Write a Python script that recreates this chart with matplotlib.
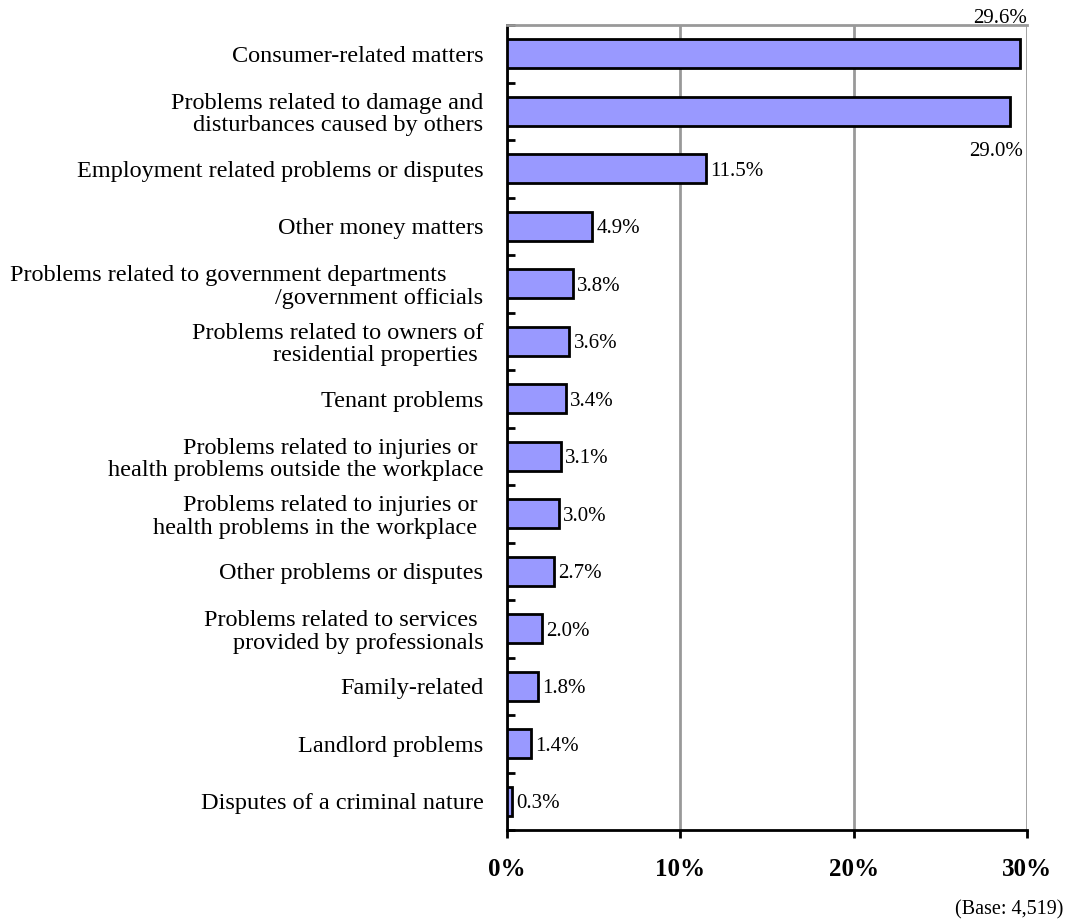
import matplotlib.pyplot as plt
import numpy as np

plt.rcParams['font.family'] = ['Liberation Serif', 'DejaVu Serif']

categories = [
    'Consumer-related matters',
    'Problems related to damage and\ndisturbances caused by others',
    'Employment related problems or disputes',
    'Other money matters',
    'Problems related to government departments      \n/government officials',
    'Problems related to owners of\nresidential properties ',
    'Tenant problems',
    'Problems related to injuries or \nhealth problems outside the workplace',
    'Problems related to injuries or \nhealth problems in the workplace ',
    'Other problems or disputes',
    'Problems related to services \nprovided by professionals',
    'Family-related',
    'Landlord problems',
    'Disputes of a criminal nature',
]
values = [29.6, 29.0, 11.5, 4.9, 3.8, 3.6, 3.4, 3.1, 3.0, 2.7, 2.0, 1.8, 1.4, 0.3]
xticks = [0, 10, 20, 30]

fig = plt.figure(figsize=(10.68, 9.24), dpi=100)
ax = fig.add_axes([507 / 1068, 1 - 830 / 924, 520 / 1068, 805 / 924])

n = len(values)
y = np.arange(n)
ax.barh(y, values, height=0.5, color='#9999ff', edgecolor='black', linewidth=2, zorder=3)
ax.set_ylim(n - 0.5, -0.5)
ax.set_xlim(0, 30)

for i, v in enumerate(values):
    lab = f'{v:.1f}%'
    if i == 0:
        ax.text(v + 0.4, i - 0.45, lab, ha='right', va='bottom', fontsize=15, clip_on=False)
    elif i == 1:
        ax.text(v + 0.75, i + 0.53, lab, ha='right', va='top', fontsize=15)
    else:
        ax.text(v + 0.25, i, lab, ha='left', va='center_baseline', fontsize=15)

ax.set_yticks(y)
ax.set_yticklabels(categories, fontsize=17.5, linespacing=1.1)
ax.tick_params(axis='y', length=0, pad=17)
ax.set_yticks(np.arange(n + 1) - 0.5, minor=True)
ax.tick_params(axis='y', which='minor', direction='in', length=6, width=2)

ax.set_xticks(xticks)
ax.set_xticklabels([f'{t}%' for t in xticks], fontsize=18, fontweight='bold')
ax.tick_params(axis='x', direction='out', length=6, width=2, pad=14)

ax.grid(axis='x', color='#999999', linewidth=2, zorder=0)
ax.spines['left'].set_linewidth(2)
ax.spines['bottom'].set_linewidth(2)
ax.spines['top'].set_color('#999999')
ax.spines['top'].set_linewidth(2)
ax.spines['right'].set_visible(False)

fig.text(1063 / 1068, 1 - 910 / 924, '(Base: 4,519)', ha='right', va='center', fontsize=14.5)

fig.savefig('out.png', dpi=100)
